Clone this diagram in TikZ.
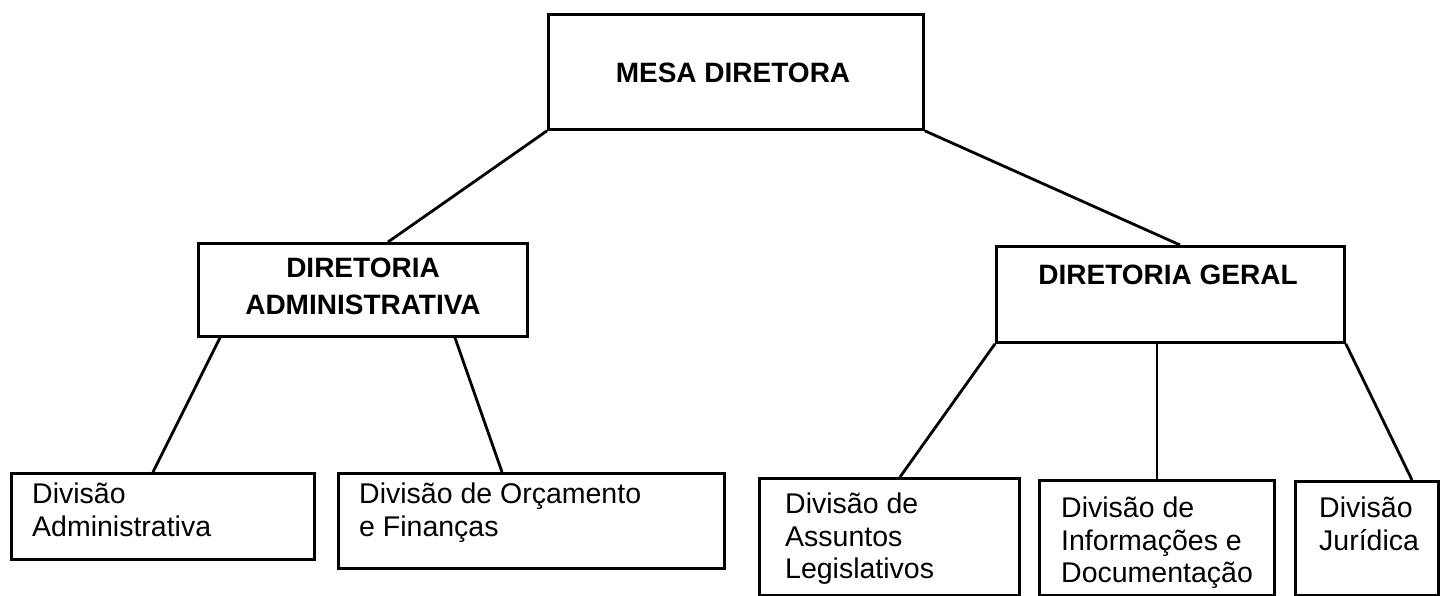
\documentclass[tikz,border=0pt]{standalone}
\usepackage{fontspec}
\setmainfont{Liberation Sans}
\usetikzlibrary{calc}
\begin{document}
\begin{tikzpicture}[x=1pt,y=-1pt,
  box/.style={draw=black,line width=2.8pt,fill=white,inner sep=0pt,anchor=north west},
  head/.style={inner sep=0pt,font=\fontsize{28}{37}\selectfont\bfseries,align=center},
  divtxt/.style={inner sep=0pt,anchor=north west,align=left,font=\fontsize{28.5}{32.5}\selectfont},
  link/.style={draw=black,line width=2.8pt}]
\useasboundingbox (0,0) rectangle (1445,596);
% top
\node[box,minimum width=375pt,minimum height=115pt] (mesa) at (547,13) {};
\node[head,anchor=base] (mesat) at (733,83) {MESA DIRETORA};
% second level
\node[box,minimum width=329pt,minimum height=93pt] (da) at (197,242) {};
\node[head,anchor=base] (dat1) at (363,277) {DIRETORIA};
\node[head,anchor=base] (dat2) at (363,314) {ADMINISTRATIVA};
\node[box,minimum width=348pt,minimum height=96pt] (dg) at (995,245) {};
\node[head,anchor=base] (dgt) at (1168,284) {DIRETORIA GERAL};
% bottom boxes
\node[box,minimum width=303pt,minimum height=86pt] (adm) at (10,472) {};
\node[divtxt] (admt) at (32,483) {Divisão\\Administrativa};
\node[box,minimum width=386pt,minimum height=95pt] (orc) at (337,472) {};
\node[divtxt] (orct) at (359,483) {Divisão de Orçamento\\e Finanças};
\node[box,minimum width=260pt,minimum height=117pt] (ass) at (758,477) {};
\node[divtxt] (asst) at (785,493) {Divisão de\\Assuntos\\Legislativos};
\node[box,minimum width=235pt,minimum height=115pt] (inf) at (1038,479) {};
\node[divtxt] (inft) at (1061,497) {Divisão de\\Informações e\\Documentação};
\node[box,minimum width=143pt,minimum height=114pt] (jur) at (1294,480) {};
\node[divtxt] (jurt) at (1319,497) {Divisão\\Jurídica};
% connection points
\coordinate (daIn) at ($(da.north west)+(191,0)$);
\coordinate (dgIn) at ($(dg.north west)+(185,0)$);
\coordinate (daL) at ($(da.south west)+(23,0)$);
\coordinate (daR) at ($(da.south west)+(258,0)$);
\coordinate (admIn) at ($(adm.north west)+(143,0)$);
\coordinate (orcIn) at ($(orc.north west)+(165,0)$);
\coordinate (dgM) at ($(dg.south west)+(162,0)$);
\coordinate (assIn) at ($(ass.north west)+(142,0)$);
\coordinate (infIn) at ($(inf.north west)+(119,0)$);
\coordinate (jurIn) at ($(jur.north west)+(118,0)$);
% connectors
\draw[link] (mesa.south west) -- (daIn);
\draw[link] (mesa.south east) -- (dgIn);
\draw[link] (daL) -- (admIn);
\draw[link] (daR) -- (orcIn);
\draw[link] (dg.south west) -- (assIn);
\draw[link] (dgM) -- (infIn);
\draw[link] (dg.south east) -- (jurIn);
\end{tikzpicture}
\end{document}
